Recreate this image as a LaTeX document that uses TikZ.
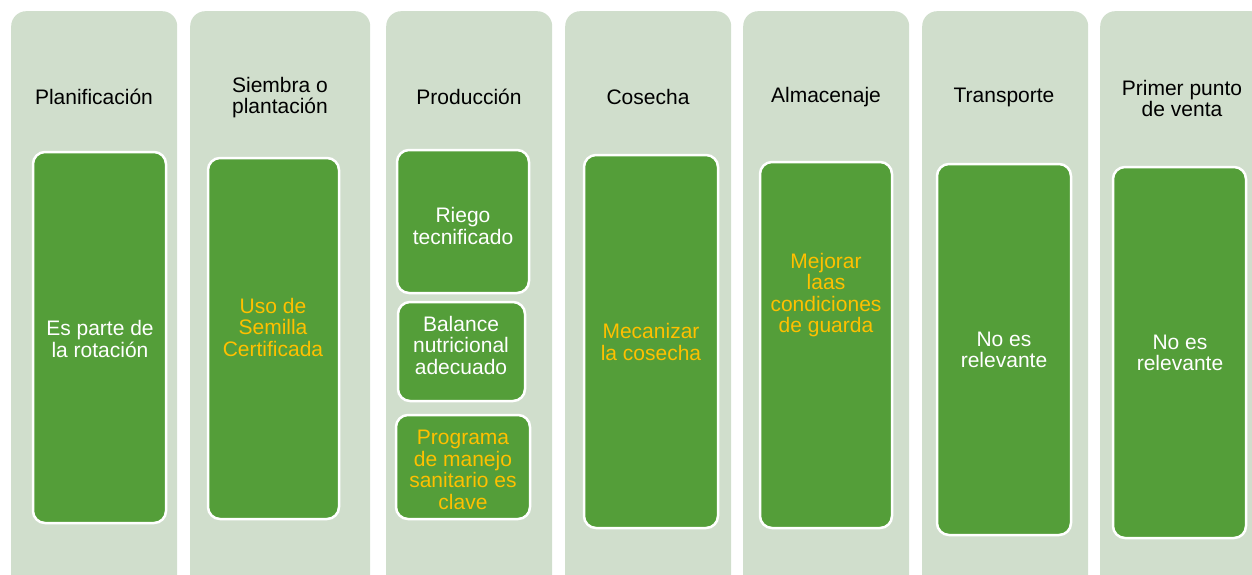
\documentclass[tikz,border=0pt]{standalone}
\usepackage{fontspec}
\setmainfont{Liberation Sans}
\definecolor{colbg}{RGB}{208,222,204}
\definecolor{boxgreen}{RGB}{84,158,57}
\definecolor{goldtxt}{RGB}{255,192,0}
\tikzset{
  colbox/.style={fill=colbg, draw=none, rounded corners=15pt, anchor=north west, inner sep=0pt},
  inbox/.style={fill=boxgreen, draw=white, line width=2.5pt, rounded corners=12pt, inner sep=0pt},
  headtxt/.style={font=\fontsize{21}{21}\selectfont, align=center, text=black, inner sep=0pt},
  wtxt/.style={font=\fontsize{21}{21.5}\selectfont, align=center, text=white, inner sep=0pt},
  otxt/.style={font=\fontsize{21}{21.5}\selectfont, align=center, text=goldtxt, inner sep=0pt}
}
\begin{document}
\begin{tikzpicture}[x=1pt,y=-1pt]
\useasboundingbox (0,0) rectangle (1252,575);
\clip (0,0) rectangle (1252,575);
% columns
\node[colbox, minimum width=166pt, minimum height=580pt] (c1) at (11,11) {};
\node[colbox, minimum width=180pt, minimum height=580pt] (c2) at (190,11) {};
\node[colbox, minimum width=166pt, minimum height=580pt] (c3) at (386,11) {};
\node[colbox, minimum width=166pt, minimum height=580pt] (c4) at (565,11) {};
\node[colbox, minimum width=166pt, minimum height=580pt] (c5) at (743,11) {};
\node[colbox, minimum width=166pt, minimum height=580pt] (c6) at (922,11) {};
\node[colbox, minimum width=166pt, minimum height=580pt] (c7) at (1100,11) {};
% headers
\node[headtxt] (h1) at (94,97) {Planificación};
\node[headtxt] (h2) at (280,98) {Siembra o\\plantación};
\node[headtxt] (h3) at (469,97) {Producción};
\node[headtxt] (h4) at (648,97) {Cosecha};
\node[headtxt] (h5) at (826,97) {Almacenaje};
\node[headtxt] (h6) at (1004,97) {Transporte};
\node[headtxt] (h7) at (1182,98) {Primer punto\\de venta};
% inner boxes
\node[inbox, minimum width=133pt, minimum height=371pt] (b1) at (99.5,337.5) {};
\node[inbox, minimum width=131pt, minimum height=361pt] (b2) at (273.5,338.5) {};
\node[inbox, minimum width=132pt, minimum height=143pt] (b3a) at (463,221.5) {};
\node[inbox, minimum width=127pt, minimum height=99pt] (b3b) at (461.5,351.5) {};
\node[inbox, minimum width=134pt, minimum height=104pt] (b3c) at (463,467) {};
\node[inbox, minimum width=134pt, minimum height=373pt] (b4) at (651,341.5) {};
\node[inbox, minimum width=132pt, minimum height=366pt] (b5) at (826,345) {};
\node[inbox, minimum width=134pt, minimum height=371pt] (b6) at (1004,349.5) {};
\node[inbox, minimum width=133pt, minimum height=371pt] (b7) at (1179.5,352.5) {};
% box texts
\node[wtxt] (t1) at (100,339) {Es parte de\\la rotación};
\node[otxt] (t2) at (273,327) {Uso de\\Semilla\\Certificada};
\node[wtxt] (t3a) at (463,226) {Riego\\tecnificado};
\node[wtxt] (t3b) at (461,345) {Balance\\nutricional\\adecuado};
\node[otxt] (t3c) at (463,470) {Programa\\de manejo\\sanitario es\\clave};
\node[otxt] (t4) at (651,342) {Mecanizar\\la cosecha};
\node[otxt] (t5) at (826,295) {Mejorar\\laas\\condiciones\\de guarda};
\node[wtxt] (t6) at (1004,350) {No es\\relevante};
\node[wtxt] (t7) at (1180,353) {No es\\relevante};
\end{tikzpicture}
\end{document}
